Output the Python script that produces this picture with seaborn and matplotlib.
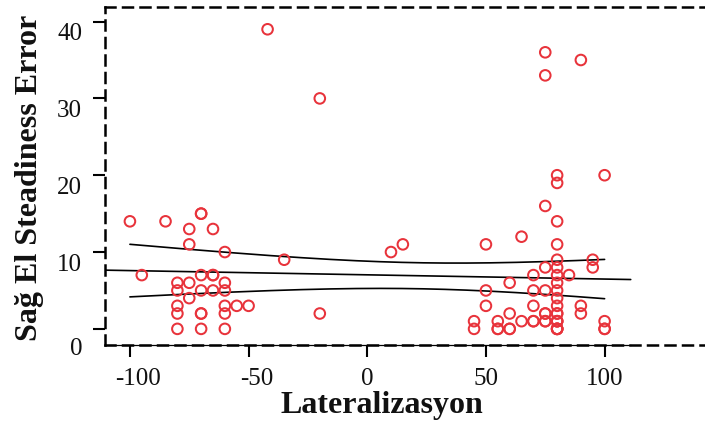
import numpy as np
import pandas as pd
import matplotlib
matplotlib.use("Agg")
import matplotlib.pyplot as plt
import matplotlib.transforms as mtransforms
import seaborn as sns

# ---- data ----
# (the last few values are over-plotted duplicates hidden inside visible rings,
#  estimated so the drawn fit matches the reference)
lateralizasyon = [
    -100, -85, -70, -70, -75, -65, -75, -60, -95, -80, -80, -75, -70, -65, -65,
    -60, -70, -65, -60, -75, -80, -80, -70, -60, -60, -55, -50, -80, -70, -60,
    -42, -20, -35, -20, 10, 15,
    75, 75, 90, 80, 80, 100, 75, 80, 50, 65, 80, 80, 95, 95, 75, 80, 70, 80, 85,
    60, 80, 50, 70, 75, 80, 80, 50, 70, 80, 90, 90, 60, 75, 80, 45, 45, 55, 55,
    60, 65, 70, 75, 80, 80, 100, 100,
    80, 80, 80, 80, 80, 80, 75, 75, 70, 60, 55, 100, -70,
]
steadiness_error = [
    14, 14, 15, 15, 13, 13, 11, 10, 7, 6, 5, 6, 7, 7, 7,
    6, 5, 5, 5, 4, 3, 2, 2, 3, 2, 3, 3, 0, 0, 0,
    39, 30, 9, 2, 10, 11,
    36, 33, 35, 20, 19, 20, 16, 14, 11, 12, 11, 9, 9, 8, 8, 8, 7, 7, 7,
    6, 6, 5, 5, 5, 5, 4, 3, 3, 3, 3, 2, 2, 2, 2, 1, 0, 1, 0,
    0, 1, 1, 1, 1, 0, 1, 0,
    0, 0, 0, 1, 1, 2, 1, 2, 1, 0, 0, 0, 2,
]
xticks = [-100, -50, 0, 50, 100]
xticklabels = ["-100", "-50", "0", "50", "100"]
yticks = [0, 10, 20, 30, 40]
yticklabels = ["0", "10", "20", "30", "40"]
xlabel = "Lateralizasyon"
ylabel = "Sağ El Steadiness Error"

df = pd.DataFrame({"x": lateralizasyon, "y": steadiness_error})

# ---- linear fit with 95% mean confidence band ----
x = df["x"].to_numpy(float)
y = df["y"].to_numpy(float)
n = len(x)
slope, intercept = np.polyfit(x, y, 1)
resid = y - (slope * x + intercept)
s = np.sqrt(np.sum(resid ** 2) / (n - 2))
xbar = x.mean()
sxx = np.sum((x - xbar) ** 2)
t = 1.986

XMIN, XMAX = -110.5, 142.6
YMIN, YMAX = -2.1, 41.9
LINE_END = 111

grid_full = np.linspace(XMIN, LINE_END, 200)
grid_band = np.linspace(x.min(), x.max(), 200)
fit_full = slope * grid_full + intercept
fit_band = slope * grid_band + intercept
hw = t * s * np.sqrt(1 / n + (grid_band - xbar) ** 2 / sxx)

# ---- figure ----
sns.set_theme(style="white")
plt.rcParams["font.family"] = ["Liberation Serif", "DejaVu Serif"]
plt.rcParams["axes.unicode_minus"] = False

fig = plt.figure(figsize=(7.05, 4.28), dpi=100)
ax = fig.add_axes([105 / 705, 83 / 428, 1 - 105 / 705 + 0.001, 338 / 428])

red = "#e8333b"
sns.scatterplot(data=df, x="x", y="y", ax=ax, marker="o", s=58,
                facecolors="none", edgecolor=red, linewidth=1.45, zorder=3)
sns.lineplot(x=grid_full, y=fit_full, ax=ax, color="black", lw=1.2, zorder=2)
sns.lineplot(x=grid_band, y=fit_band + hw, ax=ax, color="black", lw=1.2, zorder=2)
sns.lineplot(x=grid_band, y=fit_band - hw, ax=ax, color="black", lw=1.2, zorder=2)

ax.set_xlim(XMIN, XMAX)
ax.set_ylim(YMIN, YMAX)
ax.set_xticks(xticks)
ax.set_xticklabels(xticklabels)
ax.set_yticks(yticks)
ax.set_yticklabels(yticklabels)

ax.tick_params(axis="both", which="major", direction="out", length=8.5, width=1.5,
               color="black", labelsize=18, labelcolor="#111111", bottom=True, left=True)
ax.tick_params(axis="x", pad=8)
ax.tick_params(axis="y", pad=8)

# y tick labels sit a little lower than their ticks in the reference
for lab in ax.get_yticklabels():
    dy = -18 if lab.get_text() == "0" else -10
    lab.set_transform(lab.get_transform() + mtransforms.ScaledTranslation(0, dy / 100, fig.dpi_scale_trans))
for lab in ax.get_xticklabels():
    if lab.get_text().startswith("-"):
        lab.set_transform(lab.get_transform() + mtransforms.ScaledTranslation(8 / 100, 0, fig.dpi_scale_trans))

for side in ["top", "bottom", "left"]:
    sp = ax.spines[side]
    sp.set_visible(True)
    sp.set_color("black")
    sp.set_linewidth(1.8)
    sp.set_linestyle((0, (4, 3)))
ax.spines["right"].set_visible(False)

# solid thin axis line along the bottom over the plotted x range
ax.axhline(YMIN, xmin=0, xmax=(LINE_END - XMIN) / (XMAX - XMIN), color="black", lw=0.9,
           clip_on=False, zorder=4)

ax.set_xlabel(xlabel, fontsize=23, fontweight="bold", color="#111111")
ax.set_ylabel(ylabel, fontsize=23, fontweight="bold", color="#111111")
axw = 600.7
ax.xaxis.set_label_coords((367 - 105) / axw + 0.025, -(391 - 345) / 338)
ax.yaxis.set_label_coords(-(105 - 44) / axw, (345 - 178) / 338)

fig.savefig("out.png", dpi=100)
